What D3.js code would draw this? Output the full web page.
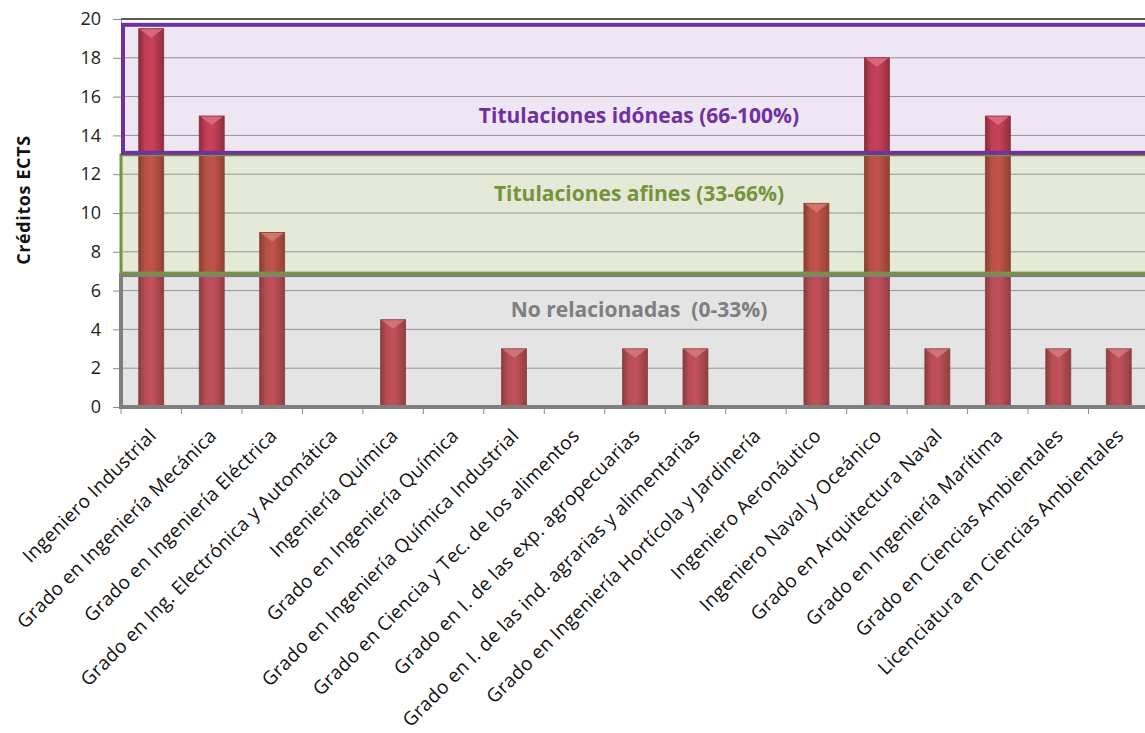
<!DOCTYPE html>
<html>
<head>
<meta charset="utf-8">
<script src="https://cdn.jsdelivr.net/npm/d3@7"></script>
<style>
  body { margin: 0; background: #fff; }
  svg { display: block; font-family: "Open Sans", Lato, sans-serif; }
</style>
</head>
<body>
<div class="chart"></div>
<script>
const categories = [
  'Ingeniero Industrial',
  'Grado en Ingeniería Mecánica',
  'Grado en Ingeniería Eléctrica',
  'Grado en Ing. Electrónica y Automática',
  'Ingeniería Química',
  'Grado en Ingeniería Química',
  'Grado en Ingeniería Química Industrial',
  'Grado en Ciencia y Tec. de los alimentos',
  'Grado en I. de las exp. agropecuarias',
  'Grado en I. de las ind. agrarias y alimentarias',
  'Grado en Ingeniería Hortícola y Jardinería',
  'Ingeniero Aeronáutico',
  'Ingeniero Naval y Oceánico',
  'Grado en Arquitectura Naval',
  'Grado en Ingeniería Marítima',
  'Grado en Ciencias Ambientales',
  'Licenciatura en Ciencias Ambientales'
];
const credits = [19.5, 15, 9, 0, 4.5, 0, 3, 0, 3, 3, 0, 10.5, 18, 3, 15, 3, 3];
const yTicks = [0, 2, 4, 6, 8, 10, 12, 14, 16, 18, 20];

// bands (low, high) in ECTS credits
const bandNames = ['No relacionadas  (0-33%)', 'Titulaciones afines (33-66%)', 'Titulaciones idóneas (66-100%)'];
const bandLow = [0, 6.9, 13.1];
const bandHigh = [6.8, 13, 19.7];
const bandColors = ['#7f7f7f', '#77933c', '#7030a0'];

const width = 1145, height = 733;
const plotLeft = 121, plotRight = 1149, plotTop = 19, plotBottom = 407;

const svg = d3.select('.chart').append('svg')
  .attr('width', width)
  .attr('height', height);

const x = d3.scaleBand()
  .domain(categories)
  .range([plotLeft, plotRight])
  .paddingInner(0.587)
  .paddingOuter(0.2935);

const y = d3.scaleLinear()
  .domain([0, 20])
  .range([plotBottom, plotTop]);

const defs = svg.append('defs');
const grad = defs.append('linearGradient')
  .attr('id', 'barGrad')
  .attr('x1', '0%').attr('x2', '100%');
grad.append('stop').attr('offset', '0%').attr('stop-color', '#8e2a2e');
grad.append('stop').attr('offset', '25%').attr('stop-color', '#c8404a');
grad.append('stop').attr('offset', '55%').attr('stop-color', '#d44450');
grad.append('stop').attr('offset', '100%').attr('stop-color', '#962f33');

// gridlines
svg.append('g')
  .selectAll('line')
  .data(yTicks)
  .join('line')
    .attr('x1', plotLeft)
    .attr('x2', plotRight)
    .attr('y1', d => y(d))
    .attr('y2', d => y(d))
    .attr('stroke', d => d === 20 ? '#222' : '#9a9a9a')
    .attr('stroke-width', d => d === 20 ? 1.5 : 1);

// bars
const bars = svg.append('g')
  .selectAll('g')
  .data(categories.map((c, i) => ({ name: c, value: credits[i] })).filter(d => d.value > 0))
  .join('g');

bars.append('rect')
  .attr('x', d => x(d.name))
  .attr('y', d => y(d.value))
  .attr('width', x.bandwidth())
  .attr('height', d => y(0) - y(d.value))
  .attr('fill', 'url(#barGrad)')
  .attr('stroke', '#8a2d30')
  .attr('stroke-width', 0.8);

bars.append('polygon')
  .attr('points', d => {
    const x0 = x(d.name), x1 = x0 + x.bandwidth(), yy = y(d.value);
    return [[x0 + 1, yy + 0.5], [x1 - 1, yy + 0.5], [x0 + x.bandwidth() / 2, yy + 9]].join(' ');
  })
  .attr('fill', '#ec7880')
  .attr('opacity', 0.85);

// y axis
const yAxis = svg.append('g')
  .attr('transform', `translate(${plotLeft},0)`)
  .call(d3.axisLeft(y).tickValues(yTicks).tickSize(8).tickPadding(12));
yAxis.select('.domain').attr('stroke', '#8a8a8a');
yAxis.selectAll('.tick line').attr('stroke', '#8a8a8a');
yAxis.selectAll('.tick text')
  .attr('font-size', 18)
  .attr('font-family', '"Open Sans", sans-serif')
  .attr('fill', '#222');

// translucent bands on top of bars
const bandG = svg.append('g');
bandNames.forEach((name, i) => {
  bandG.append('rect')
    .attr('x', plotLeft + (i === 2 ? 2 : 0))
    .attr('y', y(bandHigh[i]))
    .attr('width', plotRight - plotLeft + 20)
    .attr('height', y(bandLow[i]) - y(bandHigh[i]))
    .attr('fill', bandColors[i])
    .attr('fill-opacity', [0.21, 0.2, 0.12][i])
    .attr('stroke', bandColors[i])
    .attr('stroke-width', [4, 3, 4][i]);
});

// band labels
const labelAt = [5, 11, 15];
svg.append('g')
  .selectAll('text')
  .data(bandNames)
  .join('text')
    .attr('x', 639)
    .attr('y', (d, i) => y(labelAt[i]))
    .attr('dy', '0.35em')
    .attr('text-anchor', 'middle')
    .attr('font-size', 21)
    .attr('font-weight', 'bold')
    .attr('fill', (d, i) => bandColors[i])
    .style('white-space', 'pre')
    .text(d => d);

// x axis ticks at category boundaries
const bounds = categories.map(c => x(c) + x.bandwidth() / 2 - x.step() / 2);
bounds.push(plotRight);
svg.append('g')
  .selectAll('line')
  .data(bounds)
  .join('line')
    .attr('x1', d => d).attr('x2', d => d)
    .attr('y1', plotBottom).attr('y2', plotBottom + 7)
    .attr('stroke', '#8a8a8a');

// x labels
svg.append('g')
  .selectAll('text')
  .data(categories)
  .join('text')
    .attr('transform', d => `translate(${x(d) + x.bandwidth() / 2 + 6},${plotBottom + 30}) rotate(-45)`)
    .attr('text-anchor', 'end')
    .attr('font-size', 19)
    .attr('letter-spacing', 0.3)
    .attr('fill', '#111')
    .text(d => d);

// y title
svg.append('text')
  .attr('transform', `translate(30,200) rotate(-90)`)
  .attr('text-anchor', 'middle')
  .attr('font-size', 18)
  .attr('letter-spacing', 0.6)
  .attr('font-weight', 'bold')
  .attr('fill', '#111')
  .text('Créditos ECTS');
</script>
</body>
</html>
